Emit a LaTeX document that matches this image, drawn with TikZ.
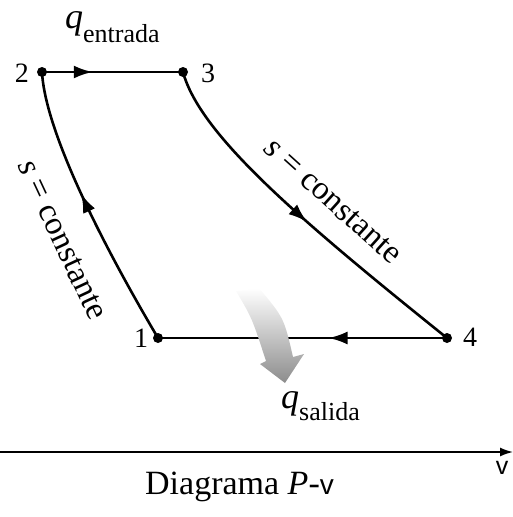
\documentclass[tikz,border=0pt]{standalone}
\usepackage{fontspec}
\setmainfont{Liberation Serif}
\newfontfamily\sansv{Liberation Sans}
\usetikzlibrary{arrows.meta,decorations.markings}
\tikzset{
  proc/.style={line width=2.6pt},
  mid/.style={postaction={decorate},decoration={markings,mark=at position #1 with {\arrow{Latex[length=19pt,width=13pt]}}}},
  dot/.style={circle,fill=black,inner sep=0pt,minimum size=10pt},
  num/.style={font=\fontsize{28}{28}\selectfont},
  lbl/.style={font=\fontsize{33}{33}\selectfont},
}
\begin{document}
\begin{tikzpicture}[x=1pt,y=-1pt]
\useasboundingbox (0,0) rectangle (513,517);
% states
\node[dot] (n2) at (42,72) {};
\node[dot] (n3) at (183,72) {};
\node[dot] (n1) at (158,338) {};
\node[dot] (n4) at (447,338) {};
\node[num] (l2) at (22,73) {2};
\node[num] (l3) at (208,73) {3};
\node[num] (l1) at (141,338) {1};
\node[num] (l4) at (470,337) {4};
% processes
\draw[proc,mid=0.36] (n2.center) -- (n3.center);
\draw[proc,mid=0.52] (n3.center) .. controls (200,135) and (300,220) .. (n4.center);
\draw[proc,mid=0.41] (n4.center) -- (n1.center);
\draw[proc,mid=0.56] (n1.center) .. controls (100,240) and (45,130) .. (n2.center);
% labels
\node[lbl,rotate=-65] (sl) at (62,240) {\textit{s} = constante};
\node[lbl,rotate=-42] (sr) at (333,201) {\textit{s} = constante};
\node[inner sep=0pt,anchor=base west] (qin) at (65,28) {\fontsize{36}{36}\selectfont\textit{q}\raisebox{-0.4em}{\fontsize{26}{26}\selectfont entrada}};
\node[inner sep=0pt,anchor=base west] (qout) at (281,408) {\fontsize{36}{36}\selectfont\textit{q}\raisebox{-0.35em}{\fontsize{26}{26}\selectfont salida}};
% heat out arrow
\shade[top color=white,bottom color=black!45]
  (236,291) .. controls (252,318) .. (266,361) -- (260,364) -- (285,383)
  -- (304,354) -- (293,357) .. controls (284,318) .. (259,288) -- cycle;
% axis
\coordinate (a0) at (0,452);
\coordinate (a1) at (513,452);
\draw[line width=1.6pt,-{Latex[length=13pt,width=9pt]}] (a0) -- (a1);
\node[inner sep=0pt] (vlab) at (502,468) {\sansv\fontsize{25}{25}\selectfont v};
\node[inner sep=0pt,anchor=base west] (cap) at (145,494) {\fontsize{34}{34}\selectfont Diagrama \textit{P}-{\sansv\fontsize{28}{28}\selectfont v}};
\end{tikzpicture}
\end{document}
